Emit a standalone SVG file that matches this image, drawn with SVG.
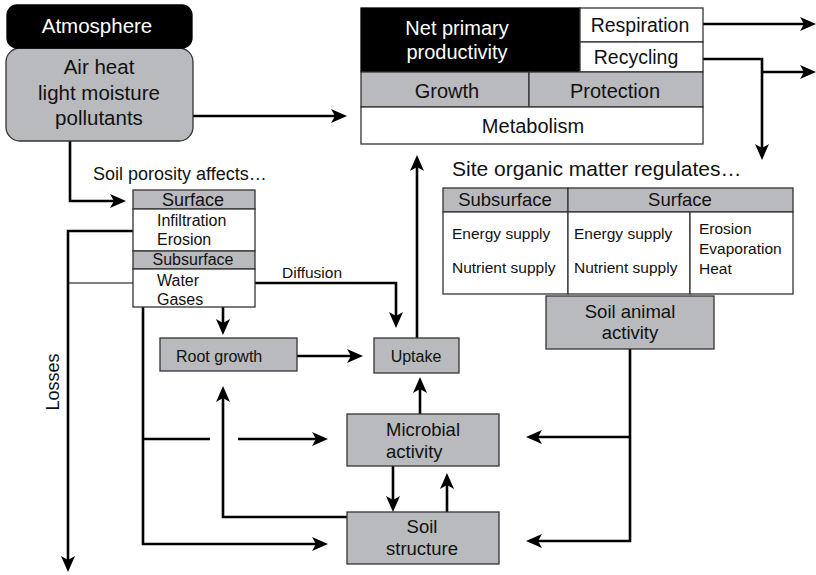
<svg xmlns="http://www.w3.org/2000/svg" width="816" height="575" viewBox="0 0 816 575">
<defs>
<style>
text{font-family:"Liberation Sans",Arial,sans-serif;fill:#111}
.g{fill:#b9babd;stroke:#333;stroke-width:1.3}
.w{fill:#fff;stroke:#333;stroke-width:1.3}
.k{fill:#000;stroke:#000;stroke-width:1.3}
.c{stroke:#000;stroke-width:2.6;fill:none}
.a{marker-end:url(#ah)}
.thin{stroke:#000;stroke-width:1.2;fill:none}
.m{text-anchor:middle}
.wt{fill:#fff}
</style>
<marker id="ah" markerUnits="userSpaceOnUse" markerWidth="18" markerHeight="14" refX="10" refY="7" orient="auto">
<path d="M0,0 L16,7 L0,14 L4,7 Z" fill="#000"/>
</marker>
</defs>

<g id="connectors">
<path class="c a" d="M193,116 H341"/>
<path class="c a" d="M70,141 V201 H120"/>
<path class="c a" d="M703,24 H810"/>
<path class="c a" d="M703,59 H762 V154"/>
<path class="c a" d="M762,72 H810"/>
<path class="c a" d="M417,338 V161"/>
<path class="c a" d="M133,231 H68 V566"/>
<path class="thin" d="M68,283 H133"/>
<path class="c a" d="M143,307 V544 H322"/>
<path class="c" d="M143,439 H210"/>
<path class="c a" d="M238,439 H322"/>
<path class="c a" d="M255,283 H396 V322"/>
<path class="c a" d="M223,307 V329"/>
<path class="c a" d="M297,356 H357"/>
<path class="c a" d="M420,414 V383"/>
<path class="c a" d="M393,466 V506"/>
<path class="c a" d="M447,512 V479"/>
<path class="c a" d="M347,517 H223 V392"/>
<path class="c a" d="M630,349 V541 H532"/>
<path class="c a" d="M630,437 H532"/>
</g>

<g id="atmosphere">
<rect x="6" y="48" width="187" height="93" rx="14" class="g"/>
<rect x="7" y="5" width="185" height="43" rx="10" class="k"/>
<text x="97" y="33" class="m wt" font-size="20.5">Atmosphere</text>
<text x="99" y="74" class="m" font-size="20.5">Air heat</text>
<text x="99" y="100" class="m" font-size="20.5">light moisture</text>
<text x="99" y="125" class="m" font-size="20.5">pollutants</text>
</g>

<g id="npp">
<rect x="361" y="8" width="219" height="64" class="k"/>
<rect x="580" y="8" width="123" height="34" class="w"/>
<rect x="580" y="42" width="123" height="30" class="w"/>
<rect x="361" y="72" width="168" height="35" class="g"/>
<rect x="529" y="72" width="174" height="35" class="g"/>
<rect x="361" y="107" width="342" height="37" class="w"/>
<text x="457" y="35" class="m wt" font-size="20">Net primary</text>
<text x="457" y="59" class="m wt" font-size="20">productivity</text>
<text x="640" y="32" class="m" font-size="19.5">Respiration</text>
<text x="636" y="64" class="m" font-size="19.5">Recycling</text>
<text x="447" y="98" class="m" font-size="20">Growth</text>
<text x="615" y="98" class="m" font-size="20">Protection</text>
<text x="533" y="133" class="m" font-size="20">Metabolism</text>
</g>

<g id="soil-porosity">
<text x="93" y="180" font-size="18">Soil porosity affects…</text>
<rect x="133" y="190" width="122" height="19" class="g"/>
<rect x="133" y="209" width="122" height="42" class="w"/>
<rect x="133" y="251" width="122" height="18" class="g"/>
<rect x="133" y="269" width="122" height="38" class="w"/>
<text x="193" y="206" class="m" font-size="18">Surface</text>
<text x="157" y="226" font-size="16">Infiltration</text>
<text x="157" y="245" font-size="16">Erosion</text>
<text x="193" y="265" class="m" font-size="16">Subsurface</text>
<text x="157" y="286" font-size="16">Water</text>
<text x="157" y="305" font-size="16">Gases</text>
</g>

<g id="diffusion-label">
<text x="282" y="278" font-size="15.5">Diffusion</text>
</g>

<g id="losses-label">
<text transform="translate(59,382) rotate(-90)" class="m" font-size="18">Losses</text>
</g>

<g id="root-growth">
<rect x="160" y="338" width="137" height="33" class="g"/>
<text x="176" y="362" font-size="16">Root growth</text>
</g>

<g id="uptake">
<rect x="374" y="338" width="85" height="35" class="g"/>
<text x="416" y="362" class="m" font-size="16">Uptake</text>
</g>

<g id="microbial-activity">
<rect x="347" y="414" width="152" height="52" class="g"/>
<text x="386" y="436" font-size="18.5">Microbial</text>
<text x="386" y="458" font-size="18.5">activity</text>
</g>

<g id="soil-structure">
<rect x="347" y="512" width="152" height="52" class="g"/>
<text x="422" y="533" class="m" font-size="18.5">Soil</text>
<text x="422" y="555" class="m" font-size="18.5">structure</text>
</g>

<g id="site-organic-matter">
<text x="452" y="176" font-size="21">Site organic matter regulates…</text>
<rect x="443" y="188" width="125" height="24" class="g"/>
<rect x="568" y="188" width="225" height="24" class="g"/>
<rect x="443" y="212" width="125" height="82" class="w"/>
<rect x="568" y="212" width="122" height="82" class="w"/>
<rect x="690" y="212" width="103" height="82" class="w"/>
<text x="505" y="206" class="m" font-size="18.5">Subsurface</text>
<text x="680" y="206" class="m" font-size="18.5">Surface</text>
<text x="452" y="239" font-size="15.5">Energy supply</text>
<text x="452" y="273" font-size="15.5">Nutrient supply</text>
<text x="574" y="239" font-size="15.5">Energy supply</text>
<text x="574" y="273" font-size="15.5">Nutrient supply</text>
<text x="699" y="234" font-size="15.5">Erosion</text>
<text x="699" y="254" font-size="15.5">Evaporation</text>
<text x="699" y="274" font-size="15.5">Heat</text>
</g>

<g id="soil-animal-activity">
<rect x="546" y="296" width="168" height="53" class="g"/>
<text x="630" y="318" class="m" font-size="18.5">Soil animal</text>
<text x="630" y="339" class="m" font-size="18.5">activity</text>
</g>
</svg>
